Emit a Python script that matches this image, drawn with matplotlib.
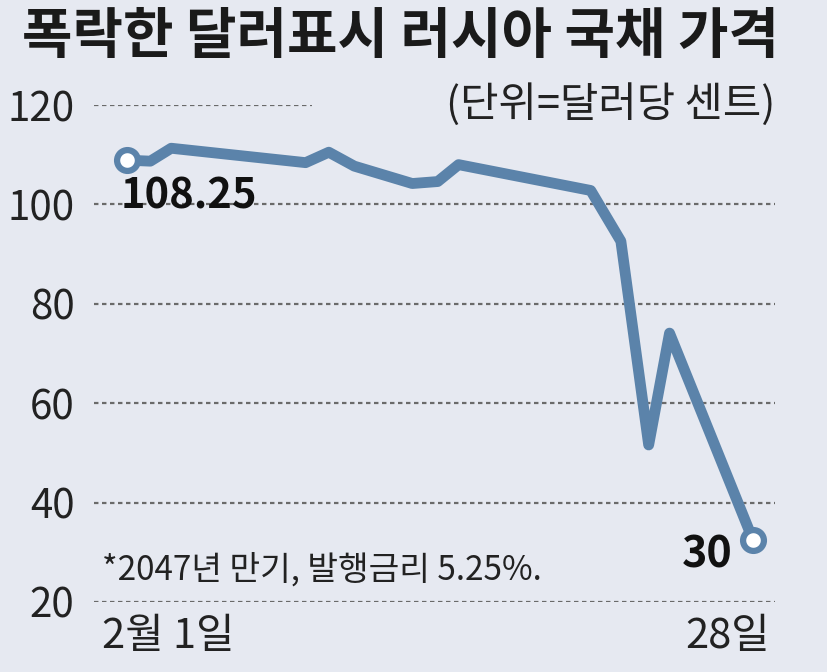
import matplotlib
matplotlib.use("Agg")
import matplotlib.pyplot as plt

# data (day of February, price in cents per dollar)
days = [1, 2, 2.9, 8.7, 9.7, 10.8, 13.3, 14.4, 15.3, 21, 22.3, 23.5, 24.4, 28]
prices = [108.9, 108.7, 111.3, 108.4, 110.5, 107.7, 104.2, 104.6, 108.0, 102.8, 92.6, 51.6, 74.1, 32.5]
yticks = [20, 40, 60, 80, 100, 120]
start_label = "108.25"
end_label = "30"

bg = "#e6e9f1"
blue = "#5b83aa"
kr = ["Noto Sans CJK KR", "DejaVu Sans"]

fig = plt.figure(figsize=(8.28, 6.72), dpi=100)
fig.patch.set_facecolor(bg)
ax = fig.add_axes([94/828, 70/672, 681/828, 497/672])
ax.set_facecolor(bg)
ax.set_xlim(-0.43, 28.95)
ax.set_ylim(20, 120)
for s in ax.spines.values():
    s.set_visible(False)

# dashed grid lines, the top one is cut short by the unit note
for v in yticks:
    xmax = 0.32 if v == 120 else 1.0
    ax.axhline(v, xmin=0, xmax=xmax, color="#6a6a6a", lw=1.6,
               ls=(0, (2.0, 1.6)), zorder=1)

ax.set_xticks([])
ax.set_yticks(yticks)
ax.set_yticklabels([str(v) for v in yticks], family=kr, fontsize=29, color="#222222")
ax.tick_params(axis="y", length=0, pad=14)

ax.plot(days, prices, color=blue, lw=7.8, solid_joinstyle="round",
        solid_capstyle="round", zorder=3, clip_on=False)
ax.plot([days[0], days[-1]], [prices[0], prices[-1]], "o", ms=15, mfc="white",
        mec=blue, mew=4.5, zorder=4, clip_on=False)

ax.text(days[0] - 0.3, 101.5, start_label, family=kr, fontsize=30,
        fontweight="bold", ha="left", va="center", color="#111111", zorder=5)
ax.text(days[-1] - 0.9, 29.5, end_label, family=kr, fontsize=31,
        fontweight="bold", ha="right", va="center", color="#111111", zorder=5)
ax.text(-0.1, 26.5, "*2047년 만기, 발행금리 5.25%.", family=kr, fontsize=24,
        ha="left", va="center", color="#222222")
ax.text(-0.1, 13, "2월 1일", family=kr, fontsize=30, ha="left", va="center",
        color="#222222", clip_on=False)
ax.text(28.75, 13, "28일", family=kr, fontsize=30, ha="right", va="center",
        color="#222222", clip_on=False)

fig.text(22/828, 1 - 36/672, "폭락한 달러표시 러시아 국채 가격", family=kr,
         fontsize=39.5, fontweight="bold", ha="left", va="center", color="#1a1a1a")
fig.text(775/828, 1 - 104/672, "(단위=달러당 센트)", family=kr, fontsize=30,
         ha="right", va="center", color="#222222")

fig.savefig("out.png", dpi=100, facecolor=bg)
